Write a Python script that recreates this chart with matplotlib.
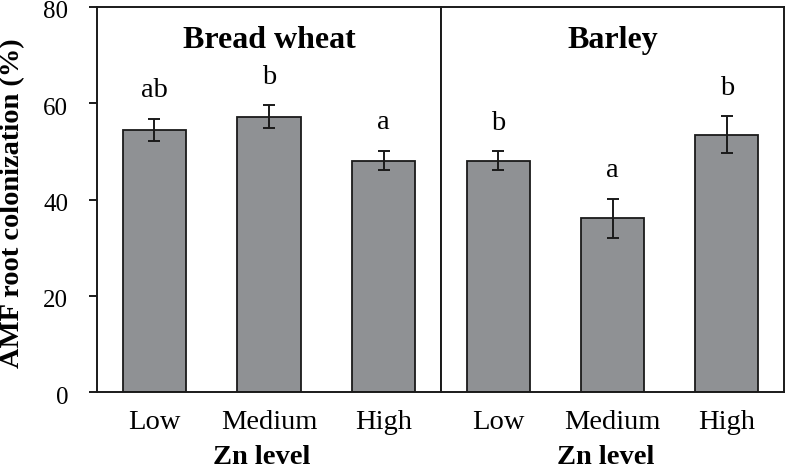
import matplotlib
matplotlib.use("Agg")
import matplotlib.pyplot as plt
from matplotlib.transforms import ScaledTranslation

categories = ["Low", "Medium", "High"]
wheat_vals = [54.5, 57.2, 48.1]
wheat_err = [2.3, 2.4, 2.0]
wheat_letters = ["ab", "b", "a"]
barley_vals = [48.1, 36.1, 53.5]
barley_err = [1.9, 4.0, 3.8]
barley_letters = ["b", "a", "b"]
panel_titles = ["Bread wheat", "Barley"]
yticks = [0, 20, 40, 60, 80]

plt.rcParams['font.family'] = ['Liberation Serif', 'DejaVu Serif']

W, H = 787, 470
fig = plt.figure(figsize=(W / 100, H / 100), dpi=100)
bottom = (H - 392) / H
height = (392 - 7) / H
ax1 = fig.add_axes([97 / W, bottom, (441 - 97) / W, height])
ax2 = fig.add_axes([441 / W, bottom, (784 - 441) / W, height])

bar_color = "#8f9194"
x = list(range(len(categories)))

for ax, vals, errs, letters, title in [
    (ax1, wheat_vals, wheat_err, wheat_letters, panel_titles[0]),
    (ax2, barley_vals, barley_err, barley_letters, panel_titles[1]),
]:
    ax.bar(x, vals, width=0.55, color=bar_color, edgecolor="#1a1a1a", linewidth=1.3, zorder=2)
    ax.errorbar(x, vals, yerr=errs, fmt="none", ecolor="#1a1a1a", elinewidth=1.4,
                capsize=4.5, capthick=1.4, zorder=3)
    for xi, v, e, lab in zip(x, vals, errs, letters):
        ax.text(xi, v + e + 4.5, lab, ha="center", va="baseline", fontsize=20.5)
    ax.set_xlim(-0.5, 2.5)
    ax.set_ylim(0, 80)
    ax.set_xticks(x)
    ax.set_xticklabels(categories, fontsize=20.5)
    ax.tick_params(axis="x", length=0, pad=13)
    ax.text(0.5, (392 - 48) / 385, title, transform=ax.transAxes, ha="center", va="baseline",
            fontsize=23, fontweight="bold")
    ax.set_xlabel("Zn level", fontsize=20.5, fontweight="bold", va="baseline")
    ax.xaxis.set_label_coords(0.48, (392 - 464.5) / 385)
    for s in ax.spines.values():
        s.set_linewidth(1.4)
        s.set_color("#1a1a1a")

ax1.set_yticks(yticks)
ax1.set_yticklabels([str(t) for t in yticks], fontsize=18)
ax1.tick_params(axis="y", direction="out", length=8 * 0.72, width=1.4, pad=15, color="#1a1a1a")
offset = ScaledTranslation(0, -3 / 100, fig.dpi_scale_trans)
for lbl in ax1.get_yticklabels():
    lbl.set_transform(lbl.get_transform() + offset)
ax1.set_ylabel("AMF root colonization (%)", fontsize=20.5, fontweight="bold")
ax1.yaxis.set_label_coords(-0.209, 0.49)

ax2.set_yticks([])
ax2.set_ylim(0, 80)

fig.savefig("out.png", dpi=100)
